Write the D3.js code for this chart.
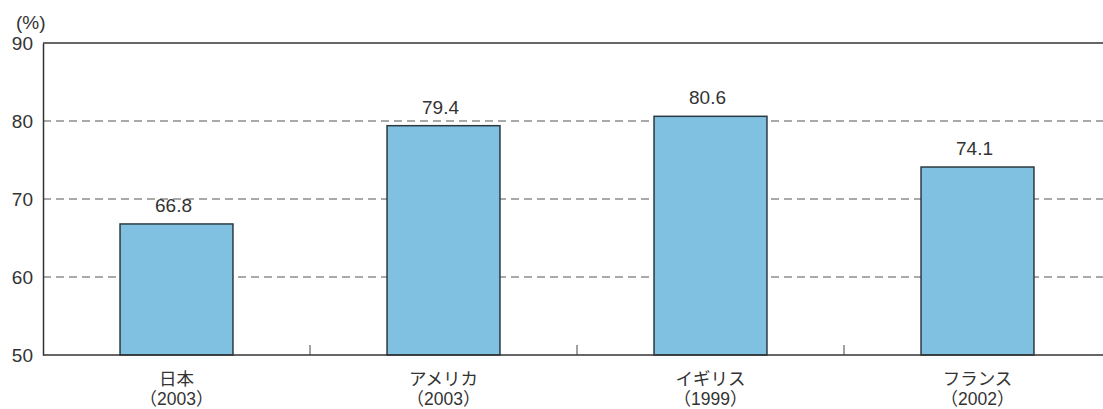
<!DOCTYPE html>
<html>
<head>
<meta charset="utf-8">
<script src="https://cdn.jsdelivr.net/npm/d3@7"></script>
<style>
  body { margin: 0; background: #fff; }
  text { font-family: "Liberation Sans", "Noto Sans CJK JP", sans-serif; fill: #333; }
</style>
</head>
<body>
<svg id="chart"></svg>
<script>
(function () {

    // Data
    const countries = ["日本", "アメリカ", "イギリス", "フランス"];
    const years = ["（2003）", "（2003）", "（1999）", "（2002）"];
    const values = [66.8, 79.4, 80.6, 74.1];
    const yTicks = [50, 60, 70, 80, 90];
    const gridTicks = [60, 70, 80];

    const width = 1103,
        height = 409;
    const margin = { top: 43, right: -8, bottom: 54, left: 43 };

    const svg = d3.select("#chart")
        .attr("width", width)
        .attr("height", height);

    const x = d3.scaleBand()
        .domain(countries)
        .range([margin.left, width - margin.right])
        .paddingInner(0.577)
        .paddingOuter(0.2885);

    const y = d3.scaleLinear()
        .domain([50, 90])
        .range([height - margin.bottom, margin.top]);

    // dashed grid lines
    svg.append("g")
        .selectAll("line")
        .data(gridTicks)
        .enter().append("line")
        .attr("x1", margin.left)
        .attr("x2", width)
        .attr("y1", (d) => y(d))
        .attr("y2", (d) => y(d))
        .attr("stroke", "#555")
        .attr("stroke-width", 1.1)
        .attr("stroke-dasharray", "8,5");

    // top frame line
    svg.append("line")
        .attr("x1", margin.left)
        .attr("x2", width)
        .attr("y1", y(90))
        .attr("y2", y(90))
        .attr("stroke", "#333")
        .attr("stroke-width", 1.5);

    // bars
    svg.append("g")
        .selectAll("rect")
        .data(values)
        .enter().append("rect")
        .attr("x", (d, i) => x(countries[i]))
        .attr("width", x.bandwidth())
        .attr("y", (d) => y(d))
        .attr("height", (d) => y(50) - y(d))
        .attr("fill", "#80c0e0")
        .attr("stroke", "#2b3a40")
        .attr("stroke-width", 1.5);

    // value labels
    svg.append("g")
        .selectAll("text")
        .data(values)
        .enter().append("text")
        .attr("x", (d, i) => x(countries[i]) + x.bandwidth() / 2 - 3)
        .attr("y", (d) => y(d) - 12)
        .attr("text-anchor", "middle")
        .style("font-size", "19px")
        .text((d) => d.toFixed(1));

    // y axis
    const yAxis = svg.append("g")
        .attr("transform", "translate(" + margin.left + ",0)")
        .call(d3.axisLeft(y).tickValues(yTicks).tickSize(0).tickPadding(10));
    yAxis.select(".domain")
        .attr("stroke", "#333")
        .attr("stroke-width", 1.5);
    yAxis.selectAll("text")
        .style("font-size", "19px")
        .attr("fill", "#333");

    svg.append("text")
        .attr("x", 16)
        .attr("y", 29)
        .style("font-size", "19px")
        .text("(%)");

    // x axis with ticks at band boundaries
    const xAxis = svg.append("g")
        .attr("transform", "translate(0," + y(50) + ")");
    xAxis.append("line")
        .attr("x1", margin.left)
        .attr("x2", width)
        .attr("stroke", "#333")
        .attr("stroke-width", 1.5);
    xAxis.selectAll(".sep")
        .data(countries.slice(1))
        .enter().append("line")
        .attr("class", "sep")
        .attr("x1", (d) => x(d) - x.step() * x.paddingInner() / 2)
        .attr("x2", (d) => x(d) - x.step() * x.paddingInner() / 2)
        .attr("y1", 0)
        .attr("y2", -10)
        .attr("stroke", "#444")
        .attr("stroke-width", 1);

    const catLabel = xAxis.selectAll(".cat")
        .data(countries)
        .enter().append("text")
        .attr("class", "cat")
        .attr("text-anchor", "middle")
        .attr("transform", (d) => "translate(" + (x(d) + x.bandwidth() / 2) + ",0)")
        .style("font-size", "17.5px");
    catLabel.append("tspan")
        .attr("x", 0)
        .attr("y", 30)
        .text((d) => d);
    catLabel.append("tspan")
        .attr("x", 0)
        .attr("y", 50)
        .text((d, i) => years[i]);
})();
</script>
</body>
</html>
